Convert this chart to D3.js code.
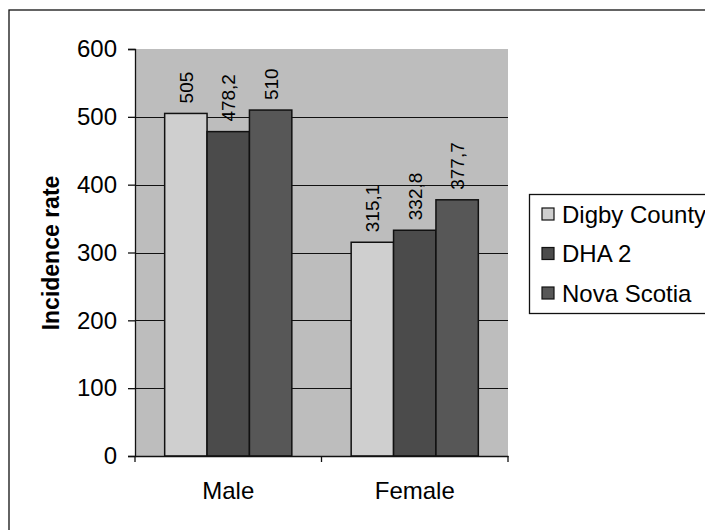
<!DOCTYPE html>
<html>
<head>
<meta charset="utf-8">
<script src="https://cdn.jsdelivr.net/npm/d3@7"></script>
<style>
  html, body { margin: 0; padding: 0; background: #fff; }
  svg { display: block; font-family: "Liberation Sans", Arial, sans-serif; }
</style>
</head>
<body>
<svg id="chart" width="705" height="530"></svg>
<script>
const categories = ["Male", "Female"];
const seriesNames = ["Digby County", "DHA 2", "Nova Scotia"];
const valuesDigby = [505, 315.1];
const valuesDHA2 = [478.2, 332.8];
const valuesNovaScotia = [510, 377.7];
const yTicks = [0, 100, 200, 300, 400, 500, 600];
const yAxisTitle = "Incidence rate";

const seriesValues = [valuesDigby, valuesDHA2, valuesNovaScotia];
const colors = ["#cfcfcf", "#4b4b4b", "#575757"];

const svg = d3.select("#chart");

// outer chart border (cut off at right/bottom)
svg.append("rect").attr("x", 9).attr("y", 10).attr("width", 760).attr("height", 560)
  .attr("fill", "none").attr("stroke", "#111").attr("stroke-width", 1.3);

const plot = { left: 135, right: 508, top: 49, bottom: 456 };

const y = d3.scaleLinear().domain([0, 600]).range([plot.bottom, plot.top]);
const x0 = d3.scaleBand().domain(categories).range([plot.left, plot.right]).padding(0);
const x1 = d3.scaleBand().domain(seriesNames).range([0, x0.bandwidth()]).paddingInner(0).paddingOuter(0.7);

// plot area background
svg.append("rect").attr("x", plot.left).attr("y", plot.top)
  .attr("width", plot.right - plot.left).attr("height", plot.bottom - plot.top)
  .attr("fill", "#bdbdbd");

// gridlines
svg.append("g").selectAll("line").data(yTicks.filter(d => d > 0 && d < 600)).join("line")
  .attr("x1", plot.left).attr("x2", plot.right)
  .attr("y1", d => Math.round(y(d)) + 0.5).attr("y2", d => Math.round(y(d)) + 0.5)
  .attr("stroke", "#111").attr("stroke-width", 1);

// bars
const groups = svg.append("g").selectAll("g").data(categories).join("g")
  .attr("transform", d => `translate(${x0(d)},0)`);

groups.selectAll("rect").data((c, ci) => seriesNames.map((s, si) => ({ s, si, v: seriesValues[si][ci] })))
  .join("rect")
  .attr("x", d => x1(d.s)).attr("width", x1.bandwidth())
  .attr("y", d => y(d.v)).attr("height", d => y(0) - y(d.v))
  .attr("fill", d => colors[d.si]).attr("stroke", "#111").attr("stroke-width", 1.5);

// data labels
const fmt = v => String(v).replace(".", ",");
groups.selectAll("text").data((c, ci) => seriesNames.map((s, si) => ({ s, si, v: seriesValues[si][ci] })))
  .join("text")
  .attr("transform", d => `translate(${x1(d.s) + x1.bandwidth() / 2 + 7},${y(d.v) - 10}) rotate(-90)`)
  .attr("text-anchor", "start")
  .attr("font-size", 19)
  .attr("fill", "#000")
  .text(d => fmt(d.v));

// y axis
const yAxis = d3.axisLeft(y).tickValues(yTicks).tickSize(7).tickPadding(11).tickFormat(d3.format("d"));
const ya = svg.append("g").attr("transform", `translate(${plot.left},0)`).call(yAxis);
ya.select(".domain").attr("stroke", "#111").attr("stroke-width", 1.3);
ya.selectAll(".tick line").attr("stroke", "#111").attr("stroke-width", 1.3);
ya.selectAll(".tick text").attr("font-size", 24).attr("font-family", "Liberation Sans, Arial, sans-serif").attr("fill", "#000");

// x axis
const xAxis = d3.axisBottom(x0).tickSize(0).tickPadding(26);
const xa = svg.append("g").attr("transform", `translate(0,${plot.bottom})`).call(xAxis);
xa.select(".domain").attr("stroke", "#111").attr("stroke-width", 1.3);
xa.selectAll(".tick text").attr("font-size", 24).attr("font-family", "Liberation Sans, Arial, sans-serif").attr("fill", "#000");
// category boundary ticks
svg.append("g").selectAll("line").data([plot.left, plot.left + x0.bandwidth(), plot.right]).join("line")
  .attr("x1", d => d).attr("x2", d => d).attr("y1", plot.bottom).attr("y2", plot.bottom + 6)
  .attr("stroke", "#111").attr("stroke-width", 1.3);

// y axis title
svg.append("text").attr("transform", `translate(59,253) rotate(-90)`)
  .attr("text-anchor", "middle").attr("font-size", 23).attr("font-weight", "bold")
  .text(yAxisTitle);

// legend
const legend = svg.append("g");
legend.append("rect").attr("x", 529.5).attr("y", 194.5).attr("width", 200).attr("height", 119)
  .attr("fill", "#fff").attr("stroke", "#111").attr("stroke-width", 1.3);
const items = legend.selectAll("g").data(seriesNames).join("g")
  .attr("transform", (d, i) => `translate(542,${214 + i * 39.5})`);
items.append("rect").attr("x", 0).attr("y", -6).attr("width", 12).attr("height", 12)
  .attr("fill", (d, i) => colors[i]).attr("stroke", "#111").attr("stroke-width", 1.2);
items.append("text").attr("x", 20).attr("y", 8.5).attr("font-size", 24).attr("fill", "#000").text(d => d);
</script>
</body>
</html>
